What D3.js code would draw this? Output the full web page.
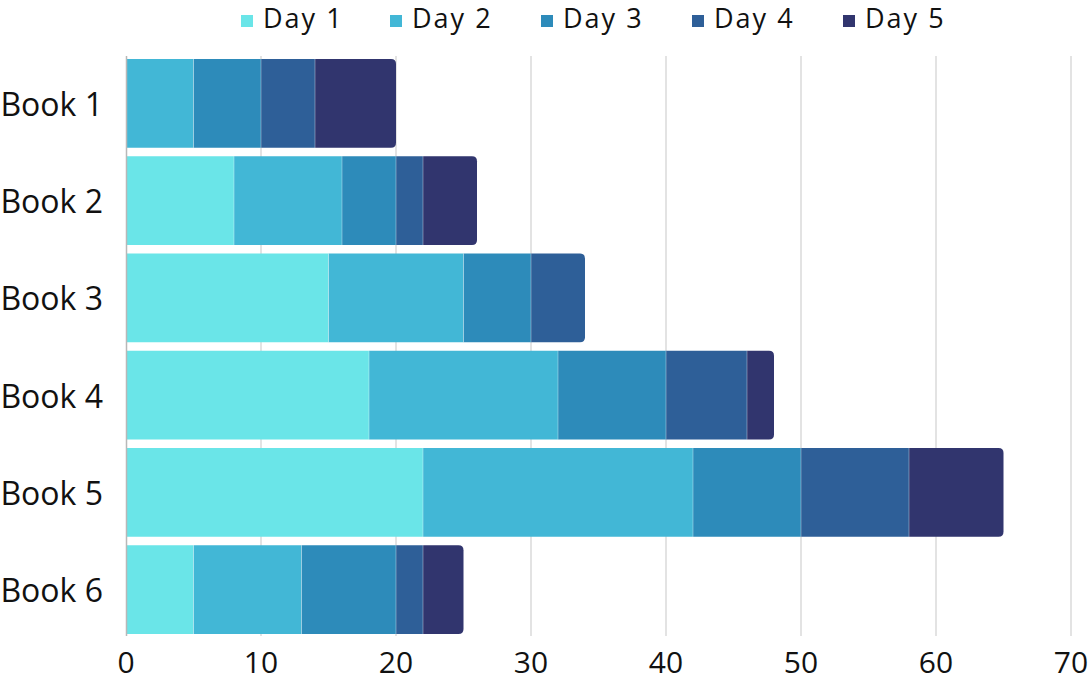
<!DOCTYPE html>
<html><head><meta charset="utf-8">
<script src="https://cdn.jsdelivr.net/npm/d3@7"></script>
<style>body{margin:0;background:#fff}svg{display:block}text{font-family:"Open Sans",Lato,sans-serif;fill:#111}</style>
</head><body>
<svg id="c" width="1091" height="675"></svg>
<script>
const books = ["Book 1","Book 2","Book 3","Book 4","Book 5","Book 6"];
const seriesNames = ["Day 1","Day 2","Day 3","Day 4","Day 5"];
const day1 = [0, 8, 15, 18, 22, 5];
const day2 = [5, 8, 10, 14, 20, 8];
const day3 = [5, 4, 5, 8, 8, 7];
const day4 = [4, 2, 4, 6, 8, 2];
const day5 = [6, 4, 0, 2, 7, 3];
const xTicks = [0,10,20,30,40,50,60,70];
const colors = ["#6ae5e8","#42b7d6","#2d8bba","#2e5f98","#31356e"];

const rows = books.map((b,i)=>({book:b,"Day 1":day1[i],"Day 2":day2[i],"Day 3":day3[i],"Day 4":day4[i],"Day 5":day5[i]}));
const stack = d3.stack().keys(seriesNames)(rows);

const svg = d3.select("#c");
const x = d3.scaleLinear().domain([0,70]).range([126,1071]);
const y = d3.scaleBand().domain(books).range([55,638]).paddingInner(0.085).paddingOuter(0.04);

svg.append("g").selectAll("line").data(xTicks.slice(1)).join("line")
  .attr("x1",d=>x(d)).attr("x2",d=>x(d)).attr("y1",56).attr("y2",636)
  .attr("stroke","#d0d0d0").attr("stroke-width",1.2);

const r = 5;
stack.forEach((s,si)=>{
  svg.append("g").selectAll("path").data(s.map((d,i)=>({d,i}))).join("path")
    .attr("fill",colors[si])
    .attr("d",({d,i})=>{
      const x0=x(d[0]), x1=x(d[1]); if(x1-x0<=0) return null;
      const top=y(books[i]), h=y.bandwidth();
      const total = stack[stack.length-1][i][1];
      if (d[1]===total){
        const rr=Math.min(r,x1-x0);
        return `M${x0},${top}H${x1-rr}Q${x1},${top} ${x1},${top+rr}V${top+h-rr}Q${x1},${top+h} ${x1-rr},${top+h}H${x0}Z`;
      }
      return `M${x0},${top}H${x1}V${top+h}H${x0}Z`;
    });
});
stack.slice(0,-1).forEach((s,si)=>{
  svg.append("g").selectAll("line").data(s.map((d,i)=>({d,i})).filter(({d,i})=>d[1]>0 && d[1]<stack[stack.length-1][i][1])).join("line")
    .attr("x1",({d})=>x(d[1])).attr("x2",({d})=>x(d[1]))
    .attr("y1",({i})=>y(books[i])).attr("y2",({i})=>y(books[i])+y.bandwidth())
    .attr("stroke","#ffffff").attr("stroke-opacity",0.35).attr("stroke-width",1);
});

svg.append("line").attr("x1",126.5).attr("x2",126.5).attr("y1",56).attr("y2",636)
  .attr("stroke","#b8b8b8").attr("stroke-width",1.5);

svg.append("g").selectAll("text").data(books).join("text")
  .attr("x",103).attr("y",d=>y(d)+y.bandwidth()/2+4)
  .attr("text-anchor","end").attr("dominant-baseline","middle")
  .style("font-size","32px").text(d=>d);

svg.append("g").selectAll("text").data(xTicks).join("text")
  .attr("x",d=>x(d)).attr("y",673)
  .attr("text-anchor","middle")
  .style("font-size","30px").text(d=>d);

const lx = [241,390,541,692,843];
const lg = svg.append("g").selectAll("g").data(seriesNames).join("g")
  .attr("transform",(d,i)=>`translate(${lx[i]},0)`);
lg.append("rect").attr("x",0).attr("y",15).attr("width",12).attr("height",12).attr("fill",(d,i)=>colors[i]);
lg.append("text").attr("x",22).attr("y",27.5)
  .style("font-size","27px").style("letter-spacing","2px").text(d=>d);
</script>
</body></html>
